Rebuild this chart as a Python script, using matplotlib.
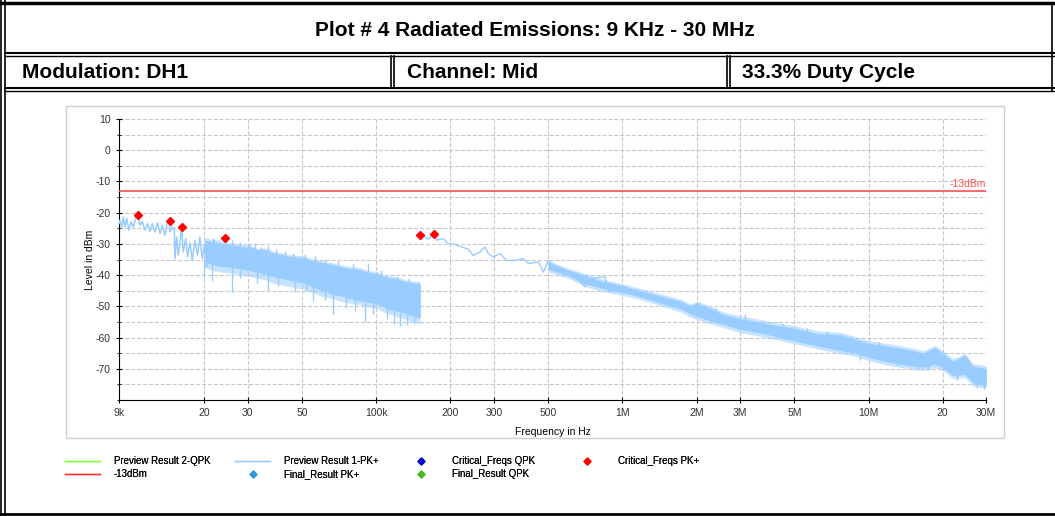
import matplotlib
matplotlib.use('Agg')
import matplotlib.pyplot as plt
from matplotlib.lines import Line2D
from matplotlib.patches import Rectangle
from matplotlib.ticker import MultipleLocator, NullLocator, FixedLocator, FixedFormatter

plt.rcParams['font.family'] = ['Liberation Sans', 'DejaVu Sans']
plt.rcParams['axes.unicode_minus'] = False

# header text
title = 'Plot # 4 Radiated Emissions: 9 KHz - 30 MHz'
cells = ['Modulation: DH1', 'Channel: Mid', '33.3% Duty Cycle']

# axis ticks
x_ticks = [9e3, 2e4, 3e4, 5e4, 1e5, 2e5, 3e5, 5e5, 1e6, 2e6, 3e6, 5e6, 1e7, 2e7, 3e7]
x_tick_labels = ['9k', '20', '30', '50', '100k', '200', '300', '500',
                 '1M', '2M', '3M', '5M', '10M', '20', '30M']
y_ticks = [-70, -60, -50, -40, -30, -20, -10, 0, 10]

limit_level = -13

# Preview Result 1-PK+, 9 kHz - 22 kHz: jagged trace
seg1a_freq = [9.0e3, 9.08e3, 9.23e3, 9.37e3, 9.52e3, 9.67e3, 9.88e3, 10.07e3, 10.29e3, 10.52e3,
              10.72e3, 10.95e3, 11.19e3, 11.47e3, 11.76e3, 12.02e3, 12.28e3, 12.59e3, 12.91e3, 13.21e3,
              13.50e3, 13.84e3, 14.19e3, 14.41e3, 14.50e3, 14.82e3, 15.10e3, 15.19e3, 15.43e3, 15.67e3,
              15.92e3, 16.17e3, 16.42e3, 16.79e3, 17.1e3, 17.48e3, 17.86e3, 18.31e3, 18.77e3, 19.18e3,
              19.61e3, 19.98e3, 20.42e3, 20.88e3, 21.4e3, 21.94e3]
seg1a_level = [-23.5, -22.4, -25.0, -21.4, -24.6, -21.9, -25.6, -23.0, -24.6, -21.9,
               -20.6, -24.0, -22.8, -25.6, -23.5, -26.0, -23.5, -26.2, -23.2, -26.7,
               -24.0, -27.2, -22.8, -22.7, -26.2, -24.6, -25.0, -34.7, -27.8, -33.6,
               -29.5, -24.6, -32.6, -28.3, -34.2, -29.5, -35.3, -29.0, -33.6, -27.8,
               -34.7, -30.4, -37.4, -29.5, -33.6, -29.0]

# Preview Result 1-PK+, 20 kHz - 150 kHz: dense noise, core and outer envelope
seg1b_freq = [20.1e3, 21.5e3, 23.2e3, 25.0e3, 26.6e3, 28.5e3, 30.7e3, 33.0e3, 35.3e3, 38.0e3,
              40.6e3, 45.0e3, 50.3e3, 55.0e3, 59.0e3, 62.0e3, 66.0e3, 72.0e3, 78.1e3, 85.0e3,
              92.0e3, 100.6e3, 107e3, 113.6e3, 122e3, 130.7e3, 140e3, 150.4e3]
seg1b_top = [-29.0, -29.5, -29.8, -30.3, -30.6, -31.0, -31.2, -32.0, -32.0, -33.0,
             -33.5, -34.2, -34.6, -35.5, -36.0, -36.3, -36.8, -37.5, -38.0, -38.3,
             -39.2, -39.6, -40.5, -41.0, -41.3, -42.2, -42.6, -43.0]
seg1b_bot = [-35.5, -36.5, -37.0, -37.3, -37.5, -38.0, -38.5, -39.0, -39.5, -40.3,
             -40.8, -41.6, -42.3, -43.6, -44.5, -45.0, -46.0, -46.5, -47.4, -48.0,
             -48.5, -49.0, -50.0, -51.0, -51.5, -52.0, -53.0, -53.5]
seg1b_outer_top = [-27.8, -28.6, -28.8, -29.5, -29.8, -30.2, -30.4, -31.5, -31.2, -32.3,
                   -32.8, -33.5, -33.8, -34.8, -35.2, -35.6, -36.0, -36.8, -37.2, -37.5,
                   -38.5, -38.8, -39.8, -40.2, -40.5, -41.5, -41.8, -42.2]
seg1b_outer_bot = [-37.5, -38.5, -39.0, -39.3, -39.5, -40.0, -40.5, -41.0, -41.5, -42.5,
                   -43.0, -43.8, -44.5, -45.5, -46.5, -47.0, -47.5, -48.5, -49.0, -49.5,
                   -50.0, -50.8, -51.8, -52.5, -53.5, -54.0, -55.0, -55.5]

# Preview Result 1-PK+, 150 kHz - 1.9 MHz: single trace
seg2_freq = [150.4e3, 157.6e3, 162.5e3, 170.4e3, 175.9e3, 187.1e3, 196.0e3, 208.7e3, 222.3e3,
             236.4e3, 247.7e3, 263.8e3, 276.4e3, 285.0e3, 298.6e3, 318.0e3, 338.6e3, 365.9e3,
             395.5e3, 414.4e3, 454.9e3, 476.7e3, 499.6e3, 531.9e3, 584.2e3, 641.5e3, 704.3e3,
             726.5e3, 849.3e3, 875.9e3, 992.7e3, 1.09e6, 1.274e6, 1.489e6, 1.741e6, 1.881e6]
seg2_level = [-27.0, -27.8, -28.5, -26.8, -28.8, -28.3, -29.9, -30.2, -31.0,
              -31.7, -33.7, -32.6, -31.0, -33.1, -34.2, -33.1, -35.3, -35.3,
              -34.7, -36.3, -35.8, -39.0, -35.3, -37.9, -39.0, -40.1, -43.8,
              -41.1, -40.6, -44.9, -44.3, -45.4, -46.5, -48.1, -49.1, -50.5]

# Preview Result 1-PK+, 500 kHz - 30 MHz: noise band, core and outer envelope
band2_freq = [0.50e6, 0.60e6, 0.70e6, 0.80e6, 1.0e6, 1.15e6, 1.27e6, 1.49e6, 1.74e6, 1.88e6,
              2.0e6, 2.27e6, 2.57e6, 3.0e6, 3.51e6, 4.1e6, 5.0e6, 6.16e6, 7.78e6, 8.67e6,
              10e6, 12.2e6, 14.7e6, 16.7e6, 18.6e6, 20e6, 22.1e6, 24.6e6, 26.6e6, 30e6]
band2_top = [-36.0, -38.5, -40.2, -41.8, -43.5, -44.8, -45.8, -47.2, -48.6, -50.0,
             -49.2, -50.7, -52.8, -54.0, -55.0, -56.1, -57.2, -58.8, -59.3, -60.5,
             -62.0, -63.0, -64.1, -65.2, -63.3, -65.2, -67.8, -65.7, -69.4, -70.0]
band2_bot = [-38.0, -40.0, -42.5, -43.8, -45.5, -46.6, -47.6, -49.2, -50.8, -52.2,
             -53.0, -54.5, -55.6, -57.2, -58.2, -59.3, -60.9, -62.5, -64.1, -64.7,
             -66.2, -67.8, -68.9, -69.4, -68.4, -69.4, -72.1, -71.6, -74.3, -75.3]
band2_outer_top = [-35.3, -37.8, -39.4, -41.0, -42.8, -44.0, -45.0, -46.4, -47.8, -49.2,
                   -48.5, -49.8, -51.8, -53.0, -54.0, -55.0, -56.2, -57.8, -58.4, -59.5,
                   -61.0, -62.0, -63.2, -64.2, -62.5, -64.2, -66.8, -65.0, -68.4, -69.0]
band2_outer_bot = [-39.0, -41.0, -43.5, -45.0, -46.5, -47.6, -48.6, -50.2, -52.0, -53.4,
                   -54.2, -55.6, -56.8, -58.4, -59.4, -60.5, -62.0, -63.6, -65.2, -65.8,
                   -67.4, -69.0, -70.0, -70.5, -69.6, -70.6, -73.2, -72.8, -75.5, -76.3]

# single spikes sticking out of the noise bands (freq, low end, high end)
spike_freq = [20.0e3, 21.5e3, 21.7e3, 24.3e3, 25.9e3, 26.0e3, 27.8e3, 28.0e3, 30.4e3, 32.0e3,
              32.7e3, 34.0e3, 36.3e3, 36.4e3, 39.0e3, 40.0e3, 42.5e3, 46.0e3, 46.7e3, 51.3e3,
              52.0e3, 55.4e3, 56.5e3, 61.8e3, 62.0e3, 66.8e3, 70.0e3, 75.0e3, 80.0e3, 82.0e3,
              89.9e3, 92.7e3, 97.0e3, 104e3, 110e3, 118e3, 120.9e3, 124.8e3, 132.8e3, 136e3,
              142e3, 148e3,
              2.05e6, 2.4e6, 3.15e6, 3.91e6, 4.5e6, 5.6e6, 6.8e6, 8.54e6, 9.23e6, 11e6,
              13e6, 15.9e6, 17.5e6, 22.8e6, 27.5e6, 29.5e6]
spike_lo = [-36.0, -36.5, -31.0, -31.0, -37.0, -31.0, -31.0, -38.0, -32.0, -32.0,
            -39.0, -33.0, -39.5, -33.0, -34.0, -40.5, -34.5, -35.0, -41.6, -35.5,
            -42.3, -43.6, -36.5, -37.0, -45.0, -46.0, -38.0, -46.5, -39.0, -47.4,
            -48.0, -40.0, -48.5, -41.0, -50.0, -51.0, -42.0, -51.5, -52.0, -43.0,
            -53.0, -43.5,
            -51.0, -52.0, -55.0, -57.5, -57.5, -59.0, -60.0, -63.0, -67.3, -63.5,
            -69.0, -70.5, -70.5, -73.7, -76.0, -76.4]
spike_hi = [-40.6, -42.0, -28.1, -28.1, -45.5, -28.8, -29.3, -41.0, -30.0, -29.8,
            -42.6, -31.0, -44.8, -30.7, -31.5, -43.5, -32.2, -32.8, -45.4, -33.1,
            -45.0, -48.3, -34.0, -34.7, -48.0, -52.3, -35.5, -50.5, -36.5, -51.5,
            -55.0, -36.0, -52.5, -38.5, -54.0, -55.5, -40.6, -56.3, -56.0, -41.0,
            -55.5, -42.2,
            -48.5, -50.4, -52.6, -55.6, -55.8, -57.0, -58.0, -60.4, -64.0, -61.5,
            -66.0, -67.0, -67.0, -70.5, -72.0, -73.0]

# Critical_Freqs PK+
crit_freq = [10.75e3, 14.5e3, 16.2e3, 24.3e3, 150.4e3, 170.9e3]
crit_level = [-20.6, -22.7, -24.6, -28.1, -27.0, -26.8]

trace_c = '#99CCFF'
limit_c = '#FF5050'

W, H = 1055, 516
fig = plt.figure(figsize=(W / 100, H / 100), dpi=100)


def fx(x):
    return x / W


def fy(y):
    return 1 - y / H


def hline(y, x0, x1, lw=1.5):
    fig.add_artist(Line2D([fx(x0), fx(x1)], [fy(y), fy(y)], color='black', lw=lw,
                          transform=fig.transFigure))


def vline(x, y0, y1, lw=1.5):
    fig.add_artist(Line2D([fx(x), fx(x)], [fy(y0), fy(y1)], color='black', lw=lw,
                          transform=fig.transFigure))


# header frame
hline(3, 0, W, lw=2.5)
vline(1, 0, H, lw=1.2)
vline(5, 0, H, lw=1.2)
vline(1052, 3, 91, lw=1.2)
hline(53, 5, W)
hline(56, 5, W, lw=1.0)
hline(88, 5, W)
hline(91, 5, W, lw=1.0)
for x in (391, 394, 727, 730):
    vline(x, 56, 88, lw=1.2)
hline(514, 0, W, lw=2)

fig.text(fx(535), fy(31), title, ha='center', va='center', fontsize=15, fontweight='bold')
for x, s in zip((22, 407, 742), cells):
    fig.text(fx(x), fy(72), s, ha='left', va='center', fontsize=15, fontweight='bold')

# grey panel around the chart
fig.add_artist(Rectangle((fx(66), fy(438)), fx(1004 - 66), (438 - 106) / H,
                         fill=False, edgecolor='#CFCFCF', lw=1, transform=fig.transFigure))

ax = fig.add_axes([fx(119), fy(400), fx(986 - 119), (400 - 119) / H])

ax.plot(seg1a_freq, seg1a_level, color=trace_c, lw=1.1, zorder=3)
ax.fill_between(seg1b_freq, seg1b_outer_bot, seg1b_outer_top, color=trace_c, alpha=0.55,
                lw=0, zorder=3)
ax.fill_between(seg1b_freq, seg1b_bot, seg1b_top, color=trace_c, lw=0.6, zorder=3)
ax.plot(seg2_freq, seg2_level, color=trace_c, lw=1.0, zorder=3)
ax.fill_between(band2_freq, band2_outer_bot, band2_outer_top, color=trace_c, alpha=0.55,
                lw=0, zorder=3)
ax.fill_between(band2_freq, band2_bot, band2_top, color=trace_c, lw=0.6, zorder=3)
ax.vlines(spike_freq, spike_lo, spike_hi, color=trace_c, lw=1.0, zorder=3)
ax.axhline(limit_level, color=limit_c, lw=1.2, zorder=4)
ax.text(3e7, limit_level + 0.5, '-13dBm', ha='right', va='bottom', color=limit_c, fontsize=7.5)
ax.plot(crit_freq, crit_level, ls='none', marker='D', ms=4, color='red', zorder=5)

ax.set_xscale('log')
ax.set_xlim(9e3, 3e7)
ax.set_ylim(-80, 10)
ax.xaxis.set_major_locator(FixedLocator(x_ticks))
ax.xaxis.set_major_formatter(FixedFormatter(x_tick_labels))
ax.xaxis.set_minor_locator(NullLocator())
ax.set_yticks(y_ticks)
ax.yaxis.set_minor_locator(MultipleLocator(5))

ax.grid(True, which='major', axis='x', ls='--', color='#C8C8C8', lw=0.8)
ax.grid(True, which='both', axis='y', ls='--', color='#C8C8C8', lw=0.8)
ax.set_axisbelow(True)
for s in ('top', 'right'):
    ax.spines[s].set_visible(False)
ax.tick_params(which='major', direction='inout', length=5, labelsize=7.5, colors='black',
               labelcolor='#333333')
ax.tick_params(which='minor', direction='inout', length=3)

ax.set_xlabel('Frequency in Hz', fontsize=7.5)
ax.set_ylabel('Level in dBm', fontsize=7.5)
ax.xaxis.set_label_coords(0.5, -0.095)
ax.yaxis.set_label_coords(-0.028, 0.5)

# legend: four fixed-width columns
cols = [
    (65, [Line2D([], [], color='#80FF40', lw=1), Line2D([], [], color='#FF3030', lw=1)],
     ['Preview Result 2-QPK', '-13dBm']),
    (235, [Line2D([], [], color=trace_c, lw=1),
           Line2D([], [], ls='none', marker='D', ms=3.5, color='#3399DD')],
     ['Preview Result 1-PK+', 'Final_Result PK+']),
    (403, [Line2D([], [], ls='none', marker='D', ms=3.5, color='#0000CC'),
           Line2D([], [], ls='none', marker='D', ms=3.5, color='#44BB22')],
     ['Critical_Freqs QPK', 'Final_Result QPK']),
    (569, [Line2D([], [], ls='none', marker='D', ms=3.5, color='red')],
     ['Critical_Freqs PK+']),
]
for x0, hs, ls in cols:
    leg = fig.legend(hs, ls, loc='upper left', bbox_to_anchor=(fx(x0), fy(456)),
                     frameon=False, fontsize=7, handlelength=3.6, handletextpad=1.4,
                     labelspacing=0.3, borderaxespad=0, borderpad=0)
    fig.add_artist(leg)

fig.savefig('out.png', dpi=100)
